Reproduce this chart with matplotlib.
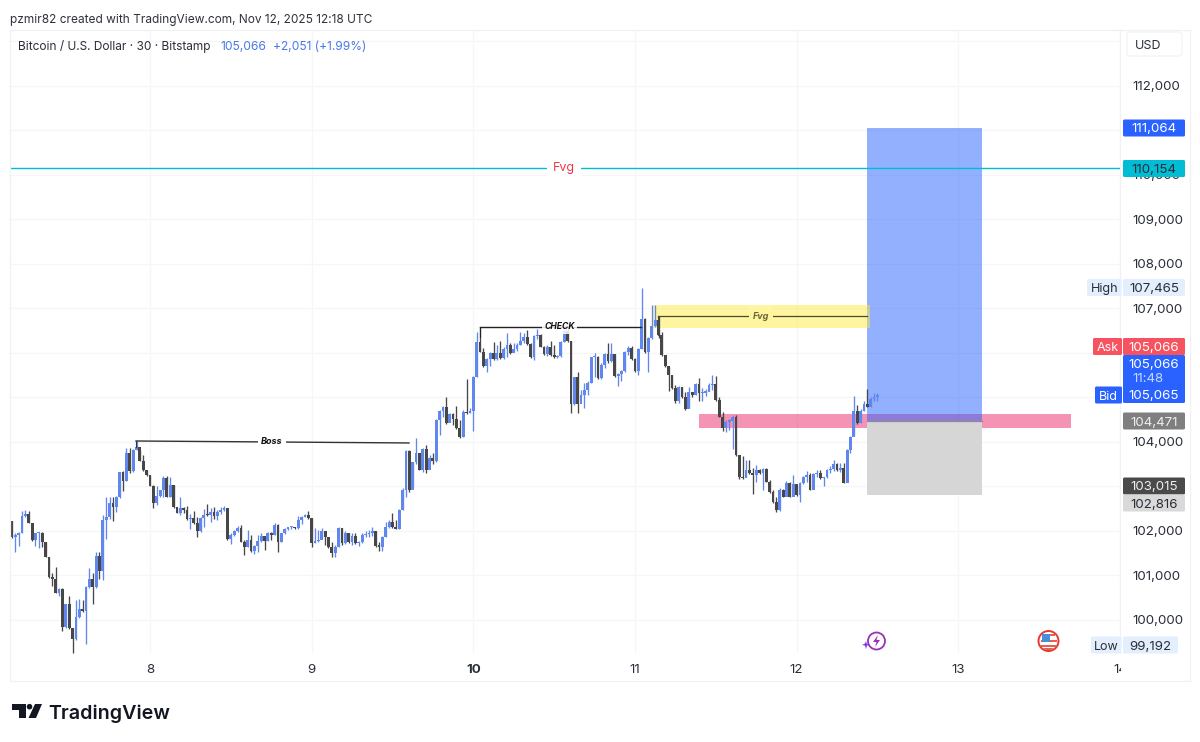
import numpy as np
import matplotlib
matplotlib.use('Agg')
import matplotlib.pyplot as plt
from matplotlib.patches import Rectangle, FancyBboxPatch, Circle, Polygon

plt.rcParams['font.family'] = ['Inter', 'DejaVu Sans']

# 30 minute candles (open = previous close)
first_open = 102230
closes = [
    101860, 101910, 101960, 102340, 102380, 102190, 101800, 101950, 101960, 101760,
    101420, 100960, 100910, 100610, 100700, 99850, 100360, 99810, 99570, 100060,
    100250, 100210, 100730, 100930, 100730, 101440, 101090, 102250, 102320, 102620,
    102530, 102770, 103330, 103130, 103750, 103350, 103830, 103880, 103580, 103360,
    103260, 103010, 102620, 102790, 102910, 103180, 102770, 103030, 102530, 102410,
    102510, 102470, 102260, 102300, 102170, 102010, 102300, 102370, 102360, 102430,
    102340, 102430, 102470, 102510, 101810, 101910, 102010, 102060, 101760, 101650,
    101800, 101540, 101660, 101780, 101890, 101780, 101950, 101910, 102130, 101760,
    101950, 102040, 102080, 102100, 102060, 102250, 102310, 102360, 102290, 101720,
    101780, 101800, 101990, 101860, 101650, 101500, 101650, 102060, 101720, 101950,
    101760, 101890, 101720, 101760, 101910, 101930, 101950, 101990, 101660, 101650,
    101870, 102100, 102210, 102080, 102050, 102470, 102920, 103800, 102920, 103540,
    103750, 103370, 103840, 103360, 103630, 103580, 104500, 104700, 104780, 104435,
    104630, 104510, 104310, 104120, 104680, 104645, 104700, 105470, 106250, 106030,
    105710, 105860, 105990, 105860, 106010, 105880, 106100, 106180, 106010, 106100,
    106180, 106280, 106350, 106200, 105920, 106380, 106400, 106140, 105980, 106140,
    105960, 105900, 105930, 106250, 106500, 106270, 104850, 105450, 104850, 105060,
    105170, 105320, 105900, 105900, 105430, 105730, 105980, 105810, 105980, 105480,
    105530, 105590, 106030, 106120, 105860, 105600, 106100, 106760, 106030, 106330,
    106610, 106740, 106400, 105960, 105710, 105510, 105210, 104910, 105240, 105000,
    104730, 105130, 105060, 105300, 105090, 105110, 105130, 105280, 105300, 104945,
    104570, 104310, 104460, 104480, 104560, 103710, 103220, 103185, 103370, 103300,
    103260, 103370, 103310, 103390, 103110, 102880, 102660, 102470, 102920, 102770,
    103070, 102770, 103060, 102810, 103070, 103210, 103260, 102920, 103280, 103310,
    103185, 103210, 103360, 103390, 103510, 103360, 103410, 103087, 103820, 104120,
    104705, 104435, 104705, 104855, 104795, 104960, 105020, 105066,
]
highs = [
    102230, 101950, 101985, 102460, 102470, 102440, 102190, 101960, 101970, 101980,
    101760, 101420, 101060, 101180, 100710, 100710, 100360, 100550, 99810, 100450,
    100470, 100460, 100760, 101160, 101060, 101530, 101530, 102360, 102760, 102760,
    102760, 102790, 103330, 103350, 103860, 103860, 103850, 104030, 103830, 103710,
    103360, 103260, 103030, 103020, 102920, 103240, 103240, 103210, 103030, 102530,
    102770, 102530, 102560, 102380, 102460, 102320, 102320, 102490, 102610, 102510,
    102530, 102470, 102530, 102560, 102510, 101950, 102020, 102110, 102130, 101800,
    102020, 101910, 101680, 101910, 101950, 101870, 101970, 101980, 102190, 102160,
    101960, 102060, 102100, 102110, 102100, 102340, 102340, 102380, 102440, 102290,
    102060, 102020, 102060, 101990, 101870, 101760, 101690, 102080, 102060, 101990,
    101960, 101950, 101950, 101780, 101950, 102010, 102020, 102080, 102010, 101760,
    101890, 102210, 102250, 102400, 102250, 102490, 102960, 103820, 103820, 103560,
    104100, 103760, 103860, 103930, 103710, 103750, 104510, 104720, 104810, 105005,
    104660, 104650, 104810, 104500, 104710, 105420, 104760, 105480, 106480, 106590,
    106120, 105880, 106030, 106250, 106180, 106270, 106140, 106440, 106220, 106220,
    106220, 106480, 106440, 106520, 106220, 106400, 106550, 106430, 106160, 106180,
    106280, 106180, 105960, 106280, 106630, 106630, 106270, 105470, 105580, 105170,
    105320, 105360, 105920, 106010, 105930, 105770, 106010, 106230, 106230, 105980,
    105560, 105620, 106050, 106160, 106160, 105880, 106120, 107465, 106780, 106350,
    107080, 107080, 106830, 106480, 105930, 105690, 105510, 105280, 105260, 105240,
    105130, 105230, 105130, 105320, 105430, 105210, 105180, 105320, 105510, 105480,
    105005, 104680, 104500, 104510, 104610, 104610, 103710, 103690, 103595, 103595,
    103410, 103480, 103390, 103410, 103410, 103150, 102920, 102760, 102960, 102940,
    103130, 103090, 103260, 103030, 103110, 103240, 103340, 103310, 103310, 103370,
    103370, 103220, 103390, 103450, 103595, 103520, 103520, 103520, 103840, 104135,
    105035, 104830, 104735, 104930, 105185, 105020, 105095, 105110,
]
lows = [
    101840, 101520, 101660, 101950, 102320, 102170, 101780, 101660, 101610, 101650,
    101410, 100940, 100760, 100600, 100540, 99760, 99830, 99800, 99250, 99560,
    100040, 100190, 99460, 100710, 100350, 100710, 100910, 100900, 101810, 102280,
    102230, 102430, 102750, 102900, 103130, 103300, 103330, 103810, 103570, 103350,
    103240, 103000, 102510, 102590, 102760, 102760, 102760, 102770, 102520, 102400,
    102360, 102410, 102250, 102050, 102160, 101870, 101980, 102100, 102340, 102210,
    102260, 102250, 102380, 102460, 101800, 101710, 101890, 101980, 101750, 101450,
    101630, 101520, 101480, 101530, 101760, 101570, 101780, 101800, 101910, 101520,
    101760, 101930, 102020, 102050, 102040, 102040, 102160, 102310, 102270, 101650,
    101720, 101760, 101840, 101690, 101610, 101410, 101420, 101650, 101690, 101710,
    101720, 101690, 101710, 101660, 101720, 101860, 101870, 101890, 101630, 101540,
    101560, 101860, 102060, 102060, 102040, 102040, 102470, 102770, 102880, 102980,
    103510, 103360, 103330, 103310, 103540, 103510, 103560, 104160, 104570, 104410,
    104460, 104380, 104290, 104080, 104110, 104630, 104650, 104250, 105450, 106020,
    105680, 105580, 105710, 105840, 105840, 105860, 105860, 105920, 105980, 106050,
    106050, 106180, 106230, 106180, 105880, 105840, 106310, 106130, 105950, 105930,
    105930, 105880, 105880, 105900, 106250, 106250, 104645, 104830, 104660, 105030,
    104760, 105060, 105320, 105450, 105420, 105410, 105660, 105780, 105800, 105450,
    105260, 105360, 105580, 105960, 105840, 105580, 105510, 106100, 106010, 105580,
    106310, 106590, 106330, 105930, 105690, 105150, 105180, 104880, 104870, 104980,
    104720, 104760, 105020, 105060, 104910, 104930, 105030, 105150, 105170, 104930,
    104560, 104250, 104230, 104270, 103836, 103690, 103160, 103160, 103220, 103270,
    102830, 103110, 103280, 102920, 103090, 102860, 102640, 102430, 102460, 102760,
    102910, 102760, 102790, 102790, 102660, 103060, 103100, 102910, 103090, 103210,
    103160, 103000, 103190, 103300, 103340, 103340, 103330, 103070, 103110, 103745,
    104135, 104405, 104420, 104705, 104780, 104795, 104910, 104930,
]

day_ticks = [8, 9, 10, 11, 12, 13, 14]
price_ticks = [100000, 101000, 102000, 103000, 104000, 105000, 106000, 107000,
               108000, 109000, 110000, 111000, 112000, 113000]
# these sit behind a price tag or the USD box, so they stay without a label
hidden_labels = [103000, 105000, 106000, 111000, 113000]

# drawings on the chart
fvg_line_price = 110154
target_price = 111064
entry_price = 104471
stop_price = 102816
pink_zone = (104310, 104640)
yellow_zone = (106555, 107076)
boss_prices = (104022, 103978)
check_price = 106584
small_fvg_price = 106831

BLUE = '#5f87ee'
DARK = '#474747'
TEXT = '#2a2e39'
VALUE_SIZE = 9.6

fig = plt.figure(figsize=(12, 7.42), dpi=100, facecolor='white')


def ax_box(left, top, right, bottom):
    return [left / 1200, 1 - bottom / 742, (right - left) / 1200, (bottom - top) / 742]


def px_day(x):
    return 8 + (x - 150) / 161.65


ax = fig.add_axes(ax_box(10, 30, 1120, 653))
ax.set_xlim(px_day(10), px_day(1120))
ax.set_ylim(99258, 113258)
for side in ['left', 'top', 'bottom']:
    ax.spines[side].set_visible(False)
ax.spines['right'].set_color('#f0f1f4')
ax.yaxis.tick_right()
ax.set_xticks(day_ticks)
ax.set_yticks(price_ticks)
ax.set_yticklabels(['' if p in hidden_labels else f'{p:,}' for p in price_ticks])
ax.tick_params(axis='y', length=0, pad=8.6, labelsize=VALUE_SIZE, labelcolor=TEXT)
ax.tick_params(axis='x', length=0, pad=8, labelsize=VALUE_SIZE, labelcolor=TEXT)
ax.get_xticklabels()[2].set_fontweight('bold')
ax.grid(True, color='#f5f6f8', linewidth=0.9)
ax.set_axisbelow(True)

# candles
closes_a = np.array(closes, dtype=float)
opens_a = np.r_[first_open, closes_a[:-1]]
times = 8 + (np.arange(len(closes_a)) - 41) / 48
up = closes_a >= opens_a
colors = [BLUE if u else DARK for u in up]
ax.vlines(times, lows, highs, colors=colors, linewidth=0.95, zorder=4, clip_on=False)
body_w = 2.8 / 161.65
ax.bar(times, np.maximum(np.abs(closes_a - opens_a), 25), bottom=np.minimum(opens_a, closes_a),
       width=body_w, color=colors, linewidth=0, zorder=4)

# zones
ax.add_patch(Rectangle((px_day(699), pink_zone[0]), px_day(1071) - px_day(699),
                       pink_zone[1] - pink_zone[0], facecolor='#e91e63', alpha=0.48,
                       linewidth=0, zorder=2))
ax.add_patch(Rectangle((px_day(867), entry_price), px_day(982) - px_day(867),
                       target_price - entry_price, facecolor='#2962ff', alpha=0.5,
                       linewidth=0, zorder=3))
ax.add_patch(Rectangle((px_day(867), stop_price), px_day(982) - px_day(867),
                       entry_price - stop_price, facecolor='#d6d6d6',
                       linewidth=0, zorder=3))
ax.plot([px_day(867), px_day(982)], [entry_price, entry_price], color='#8c8c8c', lw=0.9, zorder=3)
ax.add_patch(Rectangle((px_day(652), yellow_zone[0]), px_day(870) - px_day(652),
                       yellow_zone[1] - yellow_zone[0], facecolor='#ffeb3b', alpha=0.48,
                       linewidth=0, zorder=3))

# lines and their labels
ax.plot([px_day(10), px_day(1120)], [fvg_line_price, fvg_line_price], color='#00bcd4', lw=1, zorder=3)
ax.text(px_day(564), fvg_line_price, 'Fvg', color='#f23645', fontsize=9, ha='center', va='center',
        zorder=5, bbox=dict(facecolor='white', edgecolor='none', pad=4))

ax.plot([px_day(136), px_day(409)], boss_prices, color='#333333', lw=1, zorder=5)
ax.plot([px_day(136), px_day(136)], [boss_prices[0], 103880], color='#333333', lw=0.8, zorder=5)
ax.text(px_day(272), sum(boss_prices) / 2, 'Boss', color='#111111', fontsize=6.5, style='italic',
        fontweight='bold', ha='center', va='center', zorder=5,
        bbox=dict(facecolor='white', edgecolor='none', pad=2.5))

ax.plot([px_day(480), px_day(641)], [check_price, check_price], color='#222222', lw=1, zorder=5)
ax.plot([px_day(480), px_day(480)], [check_price, 106350], color='#222222', lw=0.8, zorder=5)
ax.text(px_day(559.5), check_price, 'CHECK', color='#111111', fontsize=6.2, style='italic',
        fontweight='bold', ha='center', va='center', zorder=6,
        bbox=dict(facecolor='white', edgecolor='none', pad=1.5, alpha=0.85))

ax.plot([px_day(658), px_day(867)], [small_fvg_price, small_fvg_price], color='#4a4a30', lw=0.9, zorder=5)
ax.plot([px_day(658), px_day(658)], [small_fvg_price, 106400], color='#4a4a30', lw=0.8, zorder=5)
ax.text(px_day(761), small_fvg_price, 'Fvg', color='#6b6432', fontsize=6.5, style='italic',
        fontweight='bold', ha='center', va='center', zorder=5,
        bbox=dict(facecolor='#fff5a0', edgecolor='none', pad=3))

# overlay in pixel coordinates for panels, tags and logo
ov = fig.add_axes([0, 0, 1, 1], zorder=10)
ov.set_xlim(0, 1200)
ov.set_ylim(742, 0)
ov.axis('off')
ov.patch.set_alpha(0)

# hide the end of the clipped 14 label
ov.add_patch(Rectangle((1120.5, 656), 68, 24, facecolor='white', linewidth=0))

# frame of the chart
for xs, ys in [([10, 1190], [29.5, 29.5]), ([10, 1190], [681, 681]),
               ([10, 10], [29.5, 681]), ([1190, 1190], [29.5, 681])]:
    ov.plot(xs, ys, color='#f0f1f4', lw=0.9)


def tag(x0, x1, yc, face, text=None, color='white', h=17, size=VALUE_SIZE):
    ov.add_patch(FancyBboxPatch((x0 + 1, yc - h / 2 + 1), x1 - x0 - 2, h - 2,
                                boxstyle='round,pad=1,rounding_size=1.5',
                                facecolor=face, edgecolor='none'))
    if text:
        ov.text((x0 + x1) / 2, yc, text, color=color, fontsize=size,
                ha='center', va='center_baseline')


# USD box
ov.add_patch(FancyBboxPatch((1127, 32), 55, 24, boxstyle='round,pad=0,rounding_size=3',
                            facecolor='white', edgecolor='#f0f1f4', linewidth=0.8))
ov.text(1135, 44.5, 'USD', color=TEXT, fontsize=9, ha='left', va='center_baseline')

tag(1123, 1185, 128, '#2962ff', '111,064')
tag(1123, 1185, 168.5, '#00bcd4', '110,154', color=TEXT)

tag(1087, 1121.5, 287.5, '#e3effd', 'High', color=TEXT, size=9)
tag(1123, 1185, 287.5, '#e3effd', '107,465', color=TEXT)

tag(1093, 1122, 346.5, '#f7525f', 'Ask', size=9)
tag(1123, 1185, 346.5, '#f7525f', '105,066')

ov.add_patch(FancyBboxPatch((1124, 356), 60, 46, boxstyle='round,pad=1,rounding_size=1.5',
                            facecolor='#2962ff', edgecolor='none'))
ov.text(1154, 363.5, '105,066', color='white', fontsize=VALUE_SIZE, ha='center', va='center_baseline')
ov.text(1132, 377.5, '11:48', color='#c9d8ff', fontsize=VALUE_SIZE, ha='left', va='center_baseline')
ov.text(1154, 394.5, '105,065', color='white', fontsize=VALUE_SIZE, ha='center', va='center_baseline')
tag(1095, 1122, 395, '#2962ff', 'Bid', size=9)

tag(1123, 1185, 421, '#7f7f7f', '104,471', color='#eeeeee')
tag(1123, 1185, 486, '#4a4a4a', '103,015', color='#eeeeee')
tag(1123, 1185, 503, '#d9d9d9', '102,816', color=TEXT)

tag(1091, 1121.5, 645, '#e3effd', 'Low', color=TEXT, size=9)
tag(1123, 1178, 645, '#e3effd', '99,192', color=TEXT)

# header
ov.text(10, 18, 'pzmir82 created with TradingView.com, Nov 12, 2025 12:18 UTC', color='#2f323c',
        fontsize=8.55, ha='left', va='center_baseline')
ov.text(18, 45, 'Bitcoin / U.S. Dollar · 30 · Bitstamp', color=TEXT, fontsize=8.55,
        ha='left', va='center_baseline')
ov.text(220, 45, '105,066', color='#4b78e6', fontsize=8.75, ha='left', va='center_baseline')
ov.text(273, 45, '+2,051 (+1.99%)', color='#4b78e6', fontsize=8.6, ha='left', va='center_baseline')

# event icons
ov.add_patch(Circle((876.5, 641), 8.5, facecolor='white', edgecolor='#9c2fb8', linewidth=1.3))
ov.add_patch(Polygon([(878, 635), (873, 642), (876.5, 642), (875, 647), (880, 640), (876.5, 640)],
                     facecolor='#9c2fb8', edgecolor='none'))
ov.add_patch(Polygon([(866, 641), (866.6, 643.4), (866.8, 643.6), (869, 645), (867, 645.6),
                      (866, 649), (865, 645.6), (862, 645), (865, 643.5)],
                     facecolor='#7c3aed', edgecolor='none'))

ov.add_patch(Circle((1048.5, 641), 10, facecolor='white', edgecolor='#e53935', linewidth=1.4))
for y0 in [639.5, 644.5]:
    ov.add_patch(Rectangle((1040.5, y0), 16, 2.5, facecolor='#e8604c', linewidth=0))
ov.add_patch(Rectangle((1043, 634), 12, 2, facecolor='#e8604c', linewidth=0))
ov.add_patch(Rectangle((1042, 634), 8, 8, facecolor='#4a90d9', linewidth=0))
ov.add_patch(Polygon([(1043, 648), (1054, 648), (1051, 650), (1046, 650)], facecolor='#e8604c', edgecolor='none'))

# TradingView logo
ov.add_patch(Polygon([(12, 704), (25.5, 704), (25.5, 718), (19, 718), (19, 709.5), (12, 709.5)],
                     facecolor='#131722', edgecolor='none'))
ov.add_patch(Circle((29.5, 706.7), 2.8, facecolor='#131722', edgecolor='none'))
ov.add_patch(Polygon([(35, 704), (42, 704), (36, 718), (28.5, 718)], facecolor='#131722', edgecolor='none'))
ov.text(48.5, 711.5, 'TradingView', color='#131722', fontsize=14.2, fontweight='semibold',
        ha='left', va='center_baseline')

fig.savefig('out.png', dpi=100)
